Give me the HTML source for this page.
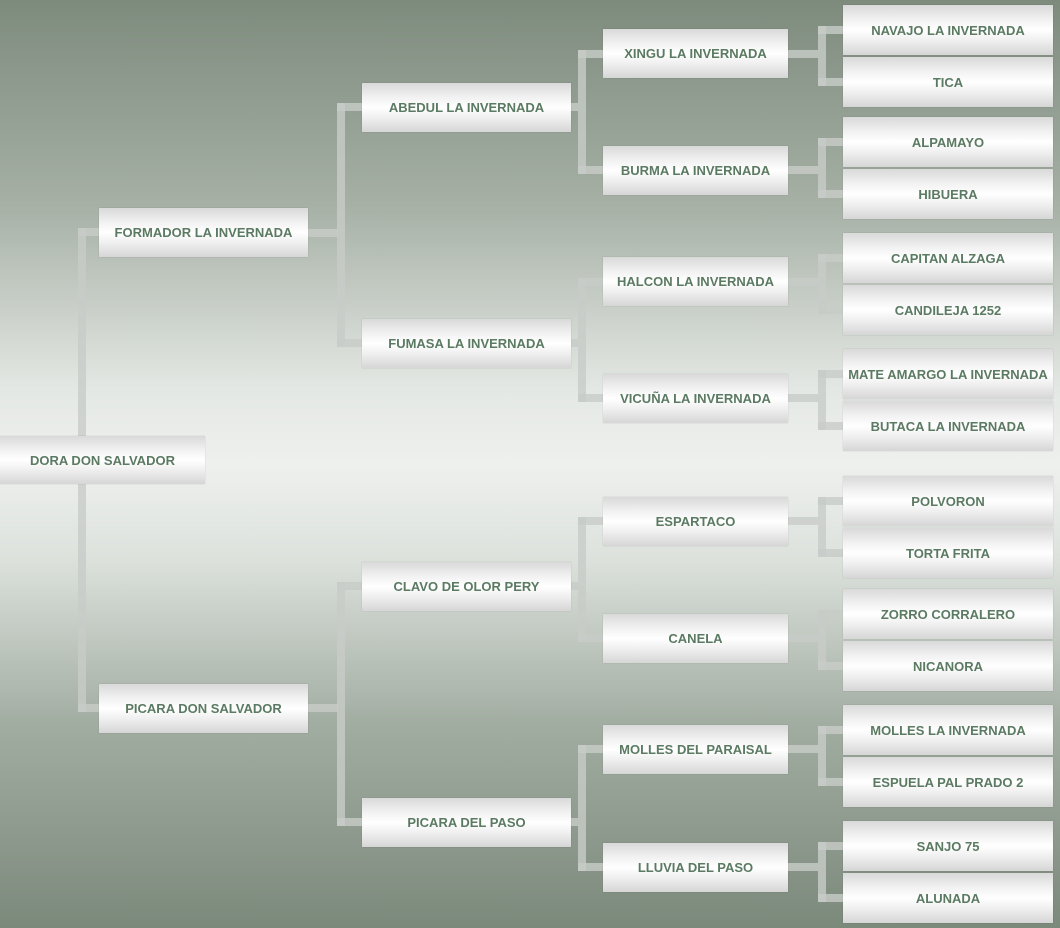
<!DOCTYPE html>
<html><head><meta charset="utf-8"><style>
html,body{margin:0;padding:0}
body{width:1060px;height:928px;position:relative;overflow:hidden;
background:linear-gradient(to bottom,#7d8b7d 0%,#a6b0a5 22%,#e4e8e4 42%,#eef0ee 50%,#dde2dd 60%,#a2ada2 78%,#7b897b 100%);
font-family:"Liberation Sans",sans-serif}
.b{position:absolute;display:flex;align-items:center;justify-content:center;
background:linear-gradient(to bottom,#d9d9d9 0%,#f2f2f2 30%,#ffffff 50%,#f0f0f0 70%,#d6d6d6 100%);
color:#5b7a62;font-weight:bold;font-size:13px;box-shadow:0 0 1px rgba(0,0,0,.2);white-space:nowrap}
.l{position:absolute;background:rgba(200,204,200,.8)}
</style></head><body>
<div class="l" style="left:78px;top:228px;width:8px;height:484px"></div>
<div class="l" style="left:78px;top:228px;width:22px;height:8px"></div>
<div class="l" style="left:78px;top:704px;width:22px;height:8px"></div>
<div class="l" style="left:337px;top:103px;width:8px;height:244px"></div>
<div class="l" style="left:308px;top:229px;width:30px;height:8px"></div>
<div class="l" style="left:337px;top:103px;width:26px;height:8px"></div>
<div class="l" style="left:337px;top:339px;width:26px;height:8px"></div>
<div class="l" style="left:337px;top:582px;width:8px;height:244px"></div>
<div class="l" style="left:308px;top:704px;width:30px;height:8px"></div>
<div class="l" style="left:337px;top:582px;width:26px;height:8px"></div>
<div class="l" style="left:337px;top:818px;width:26px;height:8px"></div>
<div id="g2"></div>
<script>
var out='';
function br(px,cx,ctop,cbot,pc,x2){
 out+='<div class="l" style="left:'+px+'px;top:'+(pc-4)+'px;width:'+(cx-px)+'px;height:8px"></div>';
 out+='<div class="l" style="left:'+cx+'px;top:'+(ctop-4)+'px;width:8px;height:'+(cbot-ctop+8)+'px"></div>';
 out+='<div class="l" style="left:'+cx+'px;top:'+(ctop-4)+'px;width:'+(x2-cx)+'px;height:8px"></div>';
 out+='<div class="l" style="left:'+cx+'px;top:'+(cbot-4)+'px;width:'+(x2-cx)+'px;height:8px"></div>';
}
var g2=[107,343,586,822],g3=[54,170,282,398,521,638,749,867];
var g4=[30,82,142,194,258,310,374,426,501,553,614,666,730,782,846,898];
for(var i=0;i<4;i++)br(571,578,g3[2*i],g3[2*i+1],g2[i],604);
for(var i=0;i<8;i++)br(788,818,g4[2*i],g4[2*i+1],g3[i],844);
document.getElementById('g2').outerHTML=out;
</script>
<div class="b" style="left:0;top:436px;width:205px;height:48px">DORA DON SALVADOR</div>
<div class="b" style="left:99px;top:208px;width:209px;height:49px">FORMADOR LA INVERNADA</div>
<div class="b" style="left:99px;top:684px;width:209px;height:49px">PICARA DON SALVADOR</div>
<div class="b" style="left:362px;top:83px;width:209px;height:49px">ABEDUL LA INVERNADA</div>
<div class="b" style="left:362px;top:319px;width:209px;height:49px">FUMASA LA INVERNADA</div>
<div class="b" style="left:362px;top:562px;width:209px;height:49px">CLAVO DE OLOR PERY</div>
<div class="b" style="left:362px;top:798px;width:209px;height:49px">PICARA DEL PASO</div>
<div class="b" style="left:603px;top:29px;width:185px;height:49px">XINGU LA INVERNADA</div>
<div class="b" style="left:603px;top:146px;width:185px;height:49px">BURMA LA INVERNADA</div>
<div class="b" style="left:603px;top:257px;width:185px;height:49px">HALCON LA INVERNADA</div>
<div class="b" style="left:603px;top:374px;width:185px;height:49px">VICUÑA LA INVERNADA</div>
<div class="b" style="left:603px;top:497px;width:185px;height:49px">ESPARTACO</div>
<div class="b" style="left:603px;top:614px;width:185px;height:49px">CANELA</div>
<div class="b" style="left:603px;top:725px;width:185px;height:49px">MOLLES DEL PARAISAL</div>
<div class="b" style="left:603px;top:843px;width:185px;height:49px">LLUVIA DEL PASO</div>
<div class="b" style="left:843px;top:5px;width:210px;height:50px">NAVAJO LA INVERNADA</div>
<div class="b" style="left:843px;top:57px;width:210px;height:50px">TICA</div>
<div class="b" style="left:843px;top:117px;width:210px;height:50px">ALPAMAYO</div>
<div class="b" style="left:843px;top:169px;width:210px;height:50px">HIBUERA</div>
<div class="b" style="left:843px;top:233px;width:210px;height:50px">CAPITAN ALZAGA</div>
<div class="b" style="left:843px;top:285px;width:210px;height:50px">CANDILEJA 1252</div>
<div class="b" style="left:843px;top:349px;width:210px;height:50px">MATE AMARGO LA INVERNADA</div>
<div class="b" style="left:843px;top:401px;width:210px;height:50px">BUTACA LA INVERNADA</div>
<div class="b" style="left:843px;top:476px;width:210px;height:50px">POLVORON</div>
<div class="b" style="left:843px;top:528px;width:210px;height:50px">TORTA FRITA</div>
<div class="b" style="left:843px;top:589px;width:210px;height:50px">ZORRO CORRALERO</div>
<div class="b" style="left:843px;top:641px;width:210px;height:50px">NICANORA</div>
<div class="b" style="left:843px;top:705px;width:210px;height:50px">MOLLES LA INVERNADA</div>
<div class="b" style="left:843px;top:757px;width:210px;height:50px">ESPUELA PAL PRADO 2</div>
<div class="b" style="left:843px;top:821px;width:210px;height:50px">SANJO 75</div>
<div class="b" style="left:843px;top:873px;width:210px;height:50px">ALUNADA</div>
</body></html>
